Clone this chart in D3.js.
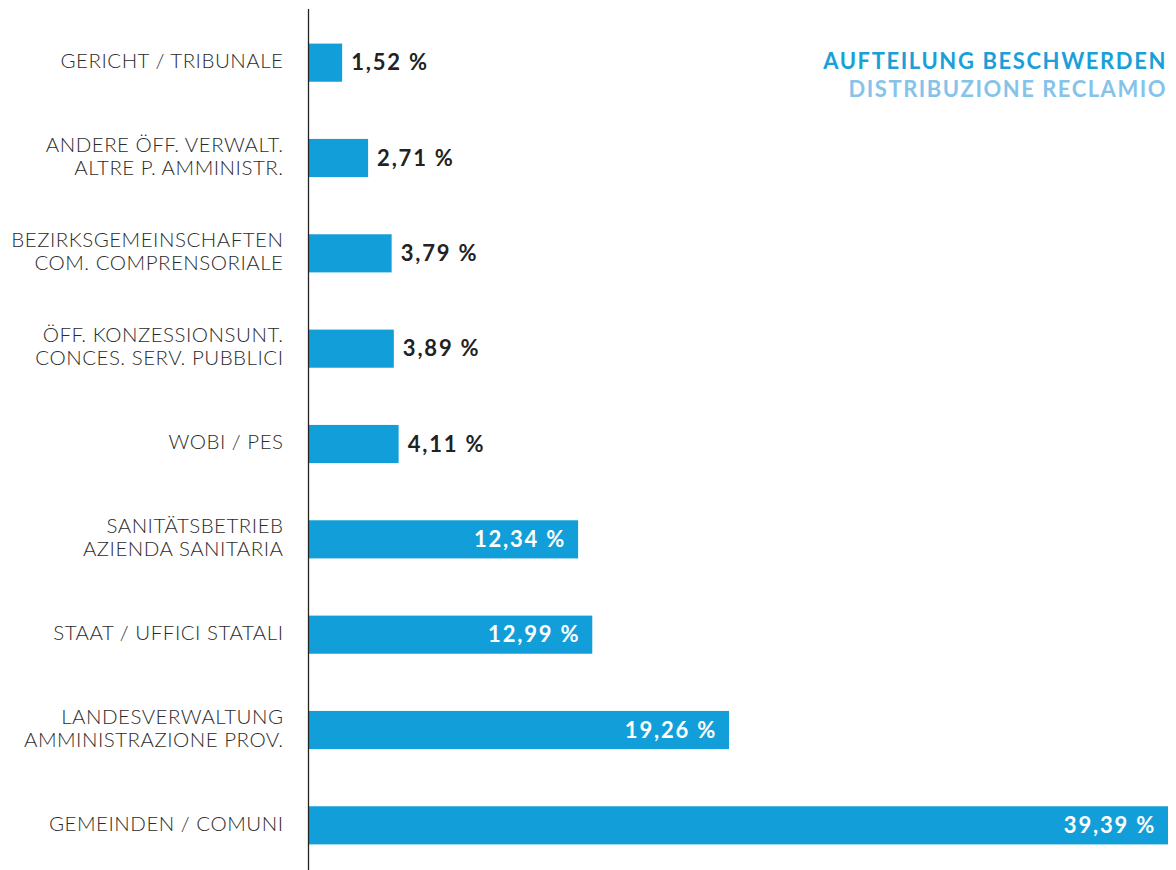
<!DOCTYPE html>
<html>
<head>
<meta charset="utf-8">
<script src="https://cdn.jsdelivr.net/npm/d3@7"></script>
<style>
  body { margin: 0; background: #fff; }
  svg { display: block; font-family: Lato, "Noto Sans", sans-serif; }
</style>
</head>
<body>
<svg width="1176" height="870"></svg>
<script>
// categories, two language lines each (German / Italian)
const categories = [
  ["GERICHT / TRIBUNALE"],
  ["ANDERE ÖFF. VERWALT.", "ALTRE P. AMMINISTR."],
  ["BEZIRKSGEMEINSCHAFTEN", "COM. COMPRENSORIALE"],
  ["ÖFF. KONZESSIONSUNT.", "CONCES. SERV. PUBBLICI"],
  ["WOBI / PES"],
  ["SANITÄTSBETRIEB", "AZIENDA SANITARIA"],
  ["STAAT / UFFICI STATALI"],
  ["LANDESVERWALTUNG", "AMMINISTRAZIONE PROV."],
  ["GEMEINDEN / COMUNI"]
];
const values = [1.52, 2.71, 3.79, 3.89, 4.11, 12.34, 12.99, 19.26, 39.39];
const valueLabels = ["1,52 %", "2,71 %", "3,79 %", "3,89 %", "4,11 %", "12,34 %", "12,99 %", "19,26 %", "39,39 %"];
const titleLines = ["AUFTEILUNG BESCHWERDEN", "DISTRIBUZIONE RECLAMIO"];

var svg = d3.select("svg");
var x0 = 309;

var x = d3.scaleLinear()
    .domain([0, d3.max(values)])
    .range([x0, 1168]);

var y = d3.scaleBand()
    .domain(d3.range(values.length))
    .range([15, 873])
    .paddingInner(0.6)
    .paddingOuter(0.3);

// bars
svg.selectAll("rect.bar")
    .data(values)
    .enter()
    .append("rect")
    .attr("class", "bar")
    .attr("x", x0)
    .attr("y", function(d, i) { return y(i); })
    .attr("width", function(d) { return x(d) - x0; })
    .attr("height", y.bandwidth())
    .attr("fill", "#129fd9");

// vertical axis line
svg.append("line")
    .attr("x1", 308.5).attr("x2", 308.5)
    .attr("y1", 9).attr("y2", 870)
    .attr("stroke", "#222")
    .attr("stroke-width", 1.3);

// category labels
var labels = svg.selectAll("text.cat")
    .data(categories)
    .enter()
    .append("text")
    .attr("class", "cat")
    .attr("text-anchor", "end")
    .attr("font-size", 20.5)
    .attr("font-weight", 300)
    .attr("letter-spacing", 0.5)
    .attr("fill", "#2b2b2b");

labels.each(function(d, i) {
    var cy = y(i) + y.bandwidth() / 2 - 2;
    var t = d3.select(this);
    d.forEach(function(line, j) {
        t.append("tspan")
            .attr("x", 283.5)
            .attr("y", cy + (j - (d.length - 1) / 2) * 23)
            .attr("dy", "0.35em")
            .text(line);
    });
});

// value labels: inside for long bars, outside for short ones
svg.selectAll("text.val")
    .data(values)
    .enter()
    .append("text")
    .attr("class", "val")
    .attr("font-size", 22)
    .attr("font-weight", 700)
    .attr("letter-spacing", 1.8)
    .attr("dy", "0.35em")
    .attr("y", function(d, i) { return y(i) + y.bandwidth() / 2; })
    .attr("x", function(d) { return d > 10 ? x(d) - 12 : x(d) + 9; })
    .attr("text-anchor", function(d) { return d > 10 ? "end" : "start"; })
    .attr("fill", function(d) { return d > 10 ? "#fff" : "#222"; })
    .text(function(d, i) { return valueLabels[i]; });

// title
svg.selectAll("text.title")
    .data(titleLines)
    .enter()
    .append("text")
    .attr("class", "title")
    .attr("x", 1167)
    .attr("y", function(d, i) { return 69 + i * 28; })
    .attr("text-anchor", "end")
    .attr("font-size", 22)
    .attr("font-weight", 700)
    .attr("letter-spacing", function(d, i) { return i === 0 ? 1.6 : 1.5; })
    .attr("fill", function(d, i) { return i === 0 ? "#1a9fd8" : "#86c3ea"; })
    .text(function(d) { return d; });
</script>
</body>
</html>
